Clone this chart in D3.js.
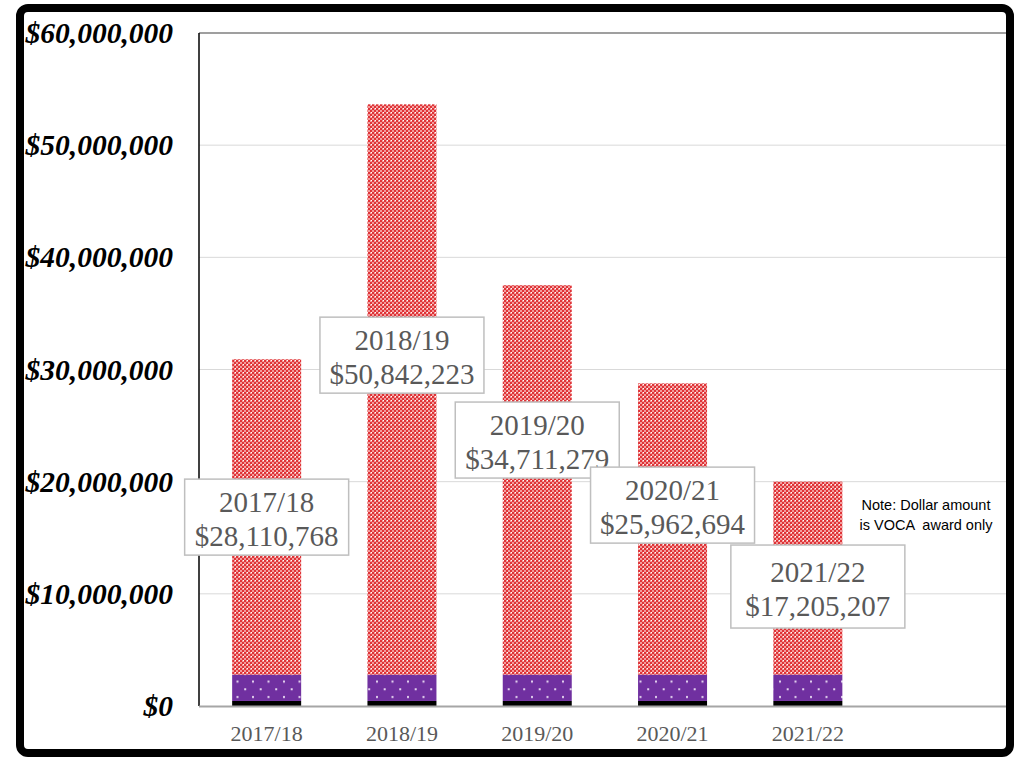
<!DOCTYPE html>
<html>
<head>
<meta charset="utf-8">
<script src="https://cdn.jsdelivr.net/npm/d3@7"></script>
<style>
  body { margin: 0; background: #fff; }
  svg { display: block; }
</style>
</head>
<body>
<div id="grafico"></div>
<script>
// datos del grafico
const anios = ["2017/18", "2018/19", "2019/20", "2020/21", "2021/22"];
const otros = [450000, 450000, 450000, 450000, 450000];        // franja negra
const igualacion = [2350000, 2350000, 2350000, 2350000, 2350000]; // franja morada
const voca = [28110768, 50842223, 34711279, 25962694, 17205207];  // premio VOCA
const etiquetaEn = [16840000, 31280000, 23710000, 17910000, 10650000]; // centro de cada caja
const ticksY = [0, 10000000, 20000000, 30000000, 40000000, 50000000, 60000000];
const nota = ["Note: Dollar amount", "is VOCA  award only"];

const ancho = 1017, alto = 757;
const izq = 199, arriba = 33, abajo = 706, derecha = 1007;
const paso = 135.3;

const $svg = d3.select("#grafico")
    .append("svg")
    .attr("width", ancho)
    .attr("height", alto);

const defs = $svg.append("defs");

// patron rojo a cuadritos
const pRojo = defs.append("pattern")
    .attr("id", "rojo")
    .attr("patternUnits", "userSpaceOnUse")
    .attr("width", 4).attr("height", 4);
pRojo.append("rect").attr("width", 4).attr("height", 4).attr("fill", "#f29c9c");
pRojo.append("rect").attr("width", 2).attr("height", 2).attr("fill", "#df3337");
pRojo.append("rect").attr("x", 2).attr("y", 2).attr("width", 2).attr("height", 2).attr("fill", "#df3337");
pRojo.append("rect").attr("x", 3).attr("y", 0).attr("width", 1).attr("height", 1).attr("fill", "#fff");

// patron morado con puntos
const pMorado = defs.append("pattern")
    .attr("id", "morado")
    .attr("patternUnits", "userSpaceOnUse")
    .attr("width", 31).attr("height", 15.4);
pMorado.append("rect").attr("width", 31).attr("height", 15.4).attr("fill", "#7030a0");
pMorado.append("rect").attr("x", 4).attr("y", 3).attr("width", 2).attr("height", 2).attr("fill", "#e6d6f0");
pMorado.append("rect").attr("x", 19.5).attr("y", 3).attr("width", 2).attr("height", 2).attr("fill", "#e6d6f0");
pMorado.append("rect").attr("x", 11.7).attr("y", 10.7).attr("width", 2).attr("height", 2).attr("fill", "#e6d6f0");
pMorado.append("rect").attr("x", 27.2).attr("y", 10.7).attr("width", 2).attr("height", 2).attr("fill", "#e6d6f0");

const y = d3.scaleLinear()
    .domain([0, 60000000])
    .range([abajo, arriba]);

const x = d3.scaleBand()
    .domain(anios)
    .range([izq, izq + paso * anios.length])
    .paddingInner(0.49)
    .paddingOuter(0.245);

// lineas de cuadricula
$svg.append("g")
    .selectAll("line")
    .data(ticksY.filter(d => d > 0 && d < 60000000))
    .join("line")
    .attr("x1", izq).attr("x2", derecha)
    .attr("y1", d => y(d)).attr("y2", d => y(d))
    .attr("stroke", "#d9d9d9")
    .attr("stroke-width", 1);

// borde superior del area
$svg.append("line")
    .attr("x1", izq).attr("x2", derecha)
    .attr("y1", y(60000000)).attr("y2", y(60000000))
    .attr("stroke", "#404040").attr("stroke-width", 1.2);

// barras apiladas
const tabla = anios.map((a, i) => ({ anio: a, otros: otros[i], igualacion: igualacion[i], voca: voca[i] }));
const pila = d3.stack().keys(["otros", "igualacion", "voca"])(tabla);
const rellenos = { otros: "#000000", igualacion: "url(#morado)", voca: "url(#rojo)" };

$svg.append("g")
    .selectAll("g")
    .data(pila)
    .join("g")
    .attr("fill", d => rellenos[d.key])
    .selectAll("rect")
    .data(d => d)
    .join("rect")
    .attr("x", d => x(d.data.anio))
    .attr("width", x.bandwidth())
    .attr("y", d => y(d[1]))
    .attr("height", d => y(d[0]) - y(d[1]));

// eje izquierdo
$svg.append("line")
    .attr("x1", izq).attr("x2", izq)
    .attr("y1", arriba).attr("y2", abajo)
    .attr("stroke", "#000").attr("stroke-width", 1.5);

// eje inferior
$svg.append("line")
    .attr("x1", izq).attr("x2", derecha)
    .attr("y1", abajo + 0.5).attr("y2", abajo + 0.5)
    .attr("stroke", "#a6a6a6").attr("stroke-width", 2);

// etiquetas del eje Y
const formato = d3.format("$,");
$svg.append("g")
    .selectAll("text")
    .data(ticksY)
    .join("text")
    .attr("x", 173)
    .attr("y", d => y(d))
    .attr("text-anchor", "end")
    .attr("dominant-baseline", "central")
    .attr("font-family", "'Liberation Serif', 'Times New Roman', serif")
    .attr("font-size", 29.5)
    .attr("font-weight", "bold")
    .attr("font-style", "italic")
    .attr("fill", "#000")
    .text(d => formato(d));

// etiquetas del eje X
$svg.append("g")
    .selectAll("text")
    .data(anios)
    .join("text")
    .attr("x", d => x(d) + x.bandwidth() / 2)
    .attr("y", 741)
    .attr("text-anchor", "middle")
    .attr("font-family", "'Liberation Serif', 'Times New Roman', serif")
    .attr("font-size", 22)
    .attr("fill", "#595959")
    .text(d => d);

// cajas con el monto
const cajas = $svg.append("g")
    .selectAll("g")
    .data(anios)
    .join("g")
    .attr("transform", (d, i) => {
        const dx = i === anios.length - 1 ? 10 : 0;
        return `translate(${x(d) + x.bandwidth() / 2 + dx},${y(etiquetaEn[i])})`;
    });

cajas.append("rect")
    .attr("x", (d, i) => i === anios.length - 1 ? -87 : -82)
    .attr("y", (d, i) => i === anios.length - 1 ? -41.5 : -38)
    .attr("width", (d, i) => i === anios.length - 1 ? 174 : 164)
    .attr("height", (d, i) => i === anios.length - 1 ? 83 : 76)
    .attr("fill", "#fff")
    .attr("stroke", "#bfbfbf")
    .attr("stroke-width", 1.5);

cajas.append("text")
    .attr("text-anchor", "middle")
    .attr("font-family", "'Liberation Serif', 'Times New Roman', serif")
    .attr("font-size", 29)
    .attr("fill", "#595959")
    .selectAll("tspan")
    .data((d, i) => [d, formato(voca[i])])
    .join("tspan")
    .attr("x", 0)
    .attr("y", (d, j) => j === 0 ? -5 : 29)
    .text(d => d);

// nota
$svg.append("text")
    .attr("text-anchor", "middle")
    .attr("font-family", "'Liberation Sans', Arial, sans-serif")
    .attr("font-size", 14.5)
    .attr("fill", "#000")
    .selectAll("tspan")
    .data(nota)
    .join("tspan")
    .attr("x", 926)
    .attr("y", (d, j) => 510 + j * 20)
    .attr("xml:space", "preserve")
    .style("white-space", "pre")
    .text(d => d);

// marco exterior
$svg.append("rect")
    .attr("x", 20).attr("y", 8)
    .attr("width", 990).attr("height", 745)
    .attr("rx", 8)
    .attr("fill", "none")
    .attr("stroke", "#000")
    .attr("stroke-width", 8);
</script>
</body>
</html>
